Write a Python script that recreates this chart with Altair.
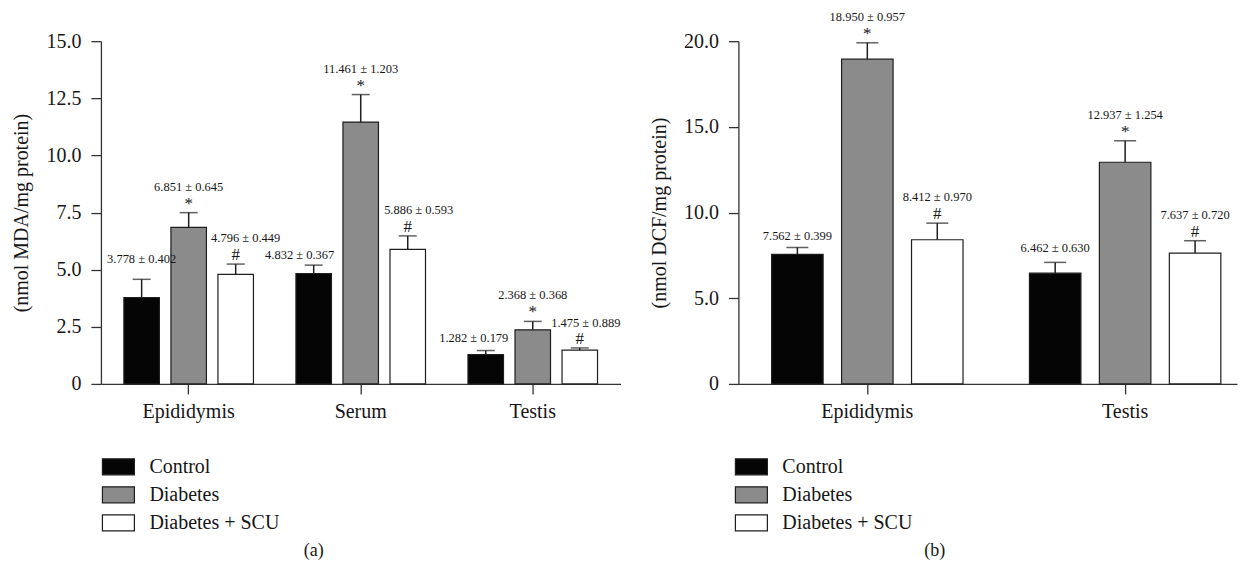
import altair as alt
import pandas as pd

FONT = "Liberation Serif"
INK = "#161616"

groups = ["Control", "Diabetes", "Diabetes + SCU"]
fills = ["#050505", "#8b8b8b", "#ffffff"]
symbols = {"Control": "", "Diabetes": "*", "Diabetes + SCU": "#"}

# ---- panel (a): MDA ----
tissues_a = ["Epididymis", "Serum", "Testis"]
mean_a = {
    "Control": [3.778, 4.832, 1.282],
    "Diabetes": [6.851, 11.461, 2.368],
    "Diabetes + SCU": [4.796, 5.886, 1.475],
}
# error bar lengths as drawn in the figure
err_a = {
    "Control": [0.80, 0.367, 0.179],
    "Diabetes": [0.645, 1.203, 0.368],
    "Diabetes + SCU": [0.449, 0.593, 0.100],
}
labels_a = {
    "Control": ["3.778 ± 0.402", "4.832 ± 0.367", "1.282 ± 0.179"],
    "Diabetes": ["6.851 ± 0.645", "11.461 ± 1.203", "2.368 ± 0.368"],
    "Diabetes + SCU": ["4.796 ± 0.449", "5.886 ± 0.593", "1.475 ± 0.889"],
}
yticks_a = [0, 2.5, 5.0, 7.5, 10.0, 12.5, 15.0]

# ---- panel (b): DCF ----
tissues_b = ["Epididymis", "Testis"]
mean_b = {
    "Control": [7.562, 6.462],
    "Diabetes": [18.950, 12.937],
    "Diabetes + SCU": [8.412, 7.637],
}
err_b = {
    "Control": [0.399, 0.630],
    "Diabetes": [0.957, 1.254],
    "Diabetes + SCU": [0.970, 0.720],
}
labels_b = {
    "Control": ["7.562 ± 0.399", "6.462 ± 0.630"],
    "Diabetes": ["18.950 ± 0.957", "12.937 ± 1.254"],
    "Diabetes + SCU": ["8.412 ± 0.970", "7.637 ± 0.720"],
}
yticks_b = [0, 5.0, 10.0, 15.0, 20.0]

# label nudges (pixels) used in the original figure layout
nudge_a = {
    ("Epididymis", "Control"): (0, -20),
    ("Serum", "Control"): (-14, -10),
    ("Testis", "Control"): (-12, -13),
    ("Epididymis", "Diabetes + SCU"): (10, -26),
    ("Serum", "Diabetes + SCU"): (11, -26),
    ("Testis", "Diabetes + SCU"): (6, -25),
}
nudge_b = {
    ("Epididymis", "Control"): (0, -12),
    ("Testis", "Control"): (0, -14),
}


def panel(tissues, means, errs, labels, yticks, ytitle, width, xscale, oscale,
          cap, legend_x, title_text, title_dx, nudge):
    rows = []
    for g in groups:
        for i, t in enumerate(tissues):
            m = means[g][i]
            rows.append(dict(tissue=t, group=g, mean=m, top=m + errs[g][i],
                             label=labels[g][i], sym=symbols[g]))
    df = pd.DataFrame(rows)

    x = alt.X("tissue:N", sort=tissues, scale=xscale,
              axis=alt.Axis(title=None, labelAngle=0, labelFont=FONT, labelFontSize=20,
                            labelColor=INK, domainColor="#333", domainWidth=1.3,
                            tickColor="#333", tickWidth=1.3, tickSize=10, labelPadding=8))
    xo = alt.XOffset("group:N", sort=groups, scale=oscale)
    yscale = alt.Scale(domain=[yticks[0], yticks[-1]], nice=False)
    base = alt.Chart(df).encode(x=x, xOffset=xo)

    bars = base.mark_bar(stroke="#1e1e1e", strokeWidth=1.2).encode(
        y=alt.Y("mean:Q", scale=yscale, title=ytitle,
                axis=alt.Axis(values=yticks, grid=False,
                              labelExpr="datum.value == 0 ? '0' : format(datum.value, '.1f')",
                              labelFont=FONT, labelFontSize=20, labelColor=INK,
                              titleFont=FONT, titleFontSize=20, titleFontWeight="normal",
                              titleColor=INK, titlePadding=14, labelPadding=10,
                              domainColor="#333", domainWidth=1.3, tickColor="#333",
                              tickWidth=1.3, tickSize=10)),
        fill=alt.Fill("group:N", sort=groups,
                      scale=alt.Scale(domain=groups, range=fills),
                      legend=alt.Legend(title=None, orient="none", legendX=legend_x,
                                        legendY=409, direction="vertical",
                                        symbolType="M-1,-0.5H1V0.5H-1Z", symbolSize=1024,
                                        symbolStrokeColor="#1e1e1e", symbolStrokeWidth=1.2,
                                        symbolOpacity=1, labelFont=FONT, labelFontSize=20,
                                        labelColor=INK, labelOffset=14, rowPadding=-5,
                                        padding=0)),
    )
    ytop = alt.Y("top:Q", title=ytitle)
    rules = base.mark_rule(color="#1e1e1e", strokeWidth=1.5).encode(
        y=alt.Y("mean:Q", title=ytitle), y2="top:Q")
    caps = base.mark_tick(color="#1e1e1e", thickness=1.5, size=cap).encode(y=ytop)
    flagged = base.transform_filter("datum.sym != ''")
    sym = flagged.mark_text(font=FONT, fontSize=17, dy=-9, baseline="middle",
                            color=INK).encode(y=ytop, text="sym:N")
    layers = [bars, rules, caps, sym]
    for g in groups:
        for t in tissues:
            dx, dy = nudge.get((t, g), (0, -26 if symbols[g] else -14))
            layers.append(
                base.transform_filter(f"datum.tissue == '{t}' && datum.group == '{g}'")
                .mark_text(font=FONT, fontSize=12.5, dx=dx, dy=dy, baseline="middle",
                           color=INK)
                .encode(y=ytop, text="label:N"))
    return alt.layer(*layers).properties(
        width=width, height=343,
        title=alt.TitleParams(title_text, orient="bottom", anchor="middle", dx=title_dx,
                              offset=8, font=FONT, fontSize=18, fontWeight="normal",
                              color=INK))


left = panel(tissues_a, mean_a, err_a, labels_a, yticks_a, "(nmol MDA/mg protein)", 520,
             alt.Scale(paddingInner=0.18, paddingOuter=0.10),
             alt.Scale(paddingInner=0.245, paddingOuter=0.1225),
             18, 0.5, "(a)", -47, nudge_a)
right = panel(tissues_b, mean_b, err_b, labels_b, yticks_b, "(nmol DCF/mg protein)", 499,
              alt.Scale(paddingInner=0.18, paddingOuter=0.057, align=0.79),
              alt.Scale(paddingInner=0.264, paddingOuter=0.143),
              22, -4, "(b)", -53, nudge_b)

chart = (
    alt.hconcat(left, right, spacing=118, bounds="flush")
    .resolve_scale(fill="independent", x="independent", y="independent",
                   xOffset="independent")
    .resolve_legend(fill="independent")
    .properties(padding={"left": 4, "top": 2, "right": 2, "bottom": 2})
    .configure(background="white", font=FONT)
    .configure_view(strokeWidth=0)
    .configure_axis(labelFont=FONT, titleFont=FONT)
    .configure_legend(labelFont=FONT)
    .configure_text(font=FONT)
)

chart.save("out.html", embed_options={"renderer": "svg", "actions": False})
